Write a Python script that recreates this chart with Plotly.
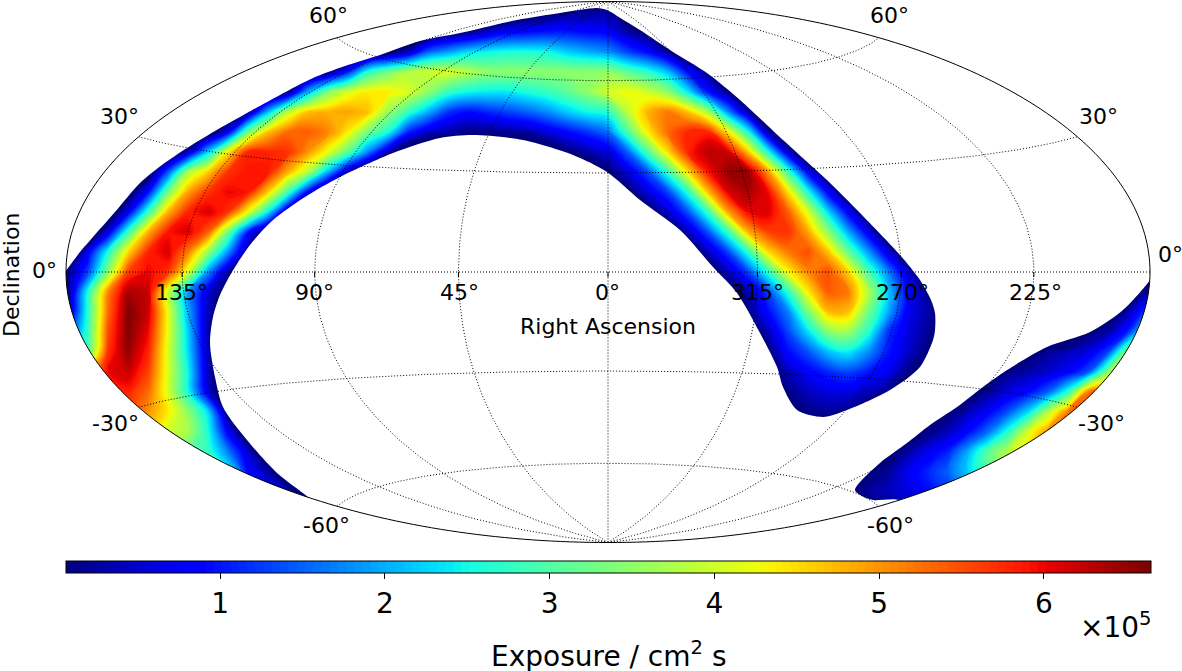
import numpy as np
import plotly.graph_objects as go

W, H = 1182, 671
# map ellipse on the page
CX, CY, RX, RY = 608, 272, 542, 270.5

# exposure, in units of 1e4 cm2 s, on a regular grid in the
# Hammer plane (57 columns, 29 rows, top row first). Listed as
# (row, first column, values); negative cells are just outside the covered sky.
N_ROWS, N_COLS = 29, 57
exposure_cells = [
    (0, 25, [-6, -5, -5, -5, -6]),
    (1, 23, [-6, -4, -1, 1, 2, 2, -5, -10]),
    (2, 19, [-5, -1, 1, 5, 8, 9, 10, 10, 9, 8, 3, -1, -8]),
    (3, 16, [-5, -1, 4, 15, 19, 23, 25, 26, 26, 25, 22, 20, 18, 13, 9, 2, -5]),
    (4, 13, [-5, 0, 11, 27, 33, 38, 40, 41, 38, 35, 35, 35, 35, 35, 35, 35, 31, 27, 21, 9, 1, -6]),
    (5, 11, [-6, 1, 20, 34, 41, 44, 44, 41, 35, 28, 25, 24, 24, 26, 28, 31, 35, 40, 43, 40, 35, 24, 10, 1, -7]),
    (6, 9, [-6, 1, 21, 39, 47, 48, 49, 47, 36, 28, 20, 12, 9, 11, 13, 15, 18, 22, 25, 27, 39, 48, 52, 47, 37, 18, 3, -8]),
    (7, 8, [-4, 7, 33, 47, 53, 54, 51, 44, 33, 26, 11, 5, 3, 1, 1, 2, 3, 6, 9, 12, 16, 30, 44, 53, 58, 58, 44, 26, 3, -7]),
    (8, 6, [-5, 4, 22, 44, 58, 58, 57, 50, 42, 31, 17, 3, -6]),
    (8, 25, [-4, 0, 3, 6, 15, 30, 45, 58, 63, 62, 47, 26, 5, -6]),
    (9, 5, [-4, 14, 37, 46, 57, 59, 59, 48, 38, 20, 3, -6]),
    (9, 27, [-6, 0, 6, 14, 28, 45, 59, 65, 65, 50, 29, 8, -3]),
    (10, 4, [-3, 9, 33, 49, 57, 60, 59, 46, 29, 8, -6]),
    (10, 28, [-5, -1, 6, 13, 27, 47, 61, 64, 60, 45, 26, 8, -3]),
    (11, 3, [-5, 7, 28, 48, 58, 61, 57, 42, 24, 2, -8]),
    (11, 29, [-5, -2, 5, 14, 28, 49, 60, 61, 54, 41, 23, 8, -3]),
    (12, 2, [-6, 6, 28, 48, 59, 61, 54, 33, 10, -3]),
    (12, 31, [-4, 4, 14, 28, 48, 56, 57, 49, 35, 20, 7, -4]),
    (13, 1, [-8, 7, 26, 45, 58, 61, 52, 36, 18, 1, -10]),
    (13, 32, [-4, 4, 13, 27, 45, 52, 55, 47, 32, 19, 6, -4]),
    (14, 0, [-10, 1, 13, 35, 56, 60, 57, 41, 18, 3, -8]),
    (14, 33, [-3, 4, 13, 27, 43, 51, 55, 46, 30, 17, 5, -2]),
    (15, 0, [-10, 1, 26, 51, 64, 62, 40, 19, 6, -3]),
    (15, 34, [-3, 3, 13, 27, 44, 54, 52, 38, 22, 8, 1, -6]),
    (15, 54, [-3, 2, 4]),
    (16, 0, [-6, 3, 27, 53, 66, 62, 42, 20, 4, -5]),
    (16, 34, [-8, 1, 9, 17, 33, 47, 47, 33, 20, 7, 3, -4]),
    (16, 53, [-3, 3, 14, 24]),
    (17, 0, [5, 12, 28, 55, 66, 60, 42, 22, 3, -7]),
    (17, 35, [-4, 4, 13, 23, 34, 36, 27, 12, 6, 2, -5]),
    (17, 52, [0, 3, 11, 30, 40]),
    (18, 1, [20, 30, 57, 65, 58, 41, 23, 4, -6]),
    (18, 35, [-6, 0, 9, 14, 21, 24, 18, 10, 5, 0, -6]),
    (18, 49, [-2, 2, 4, 6, 13, 36, 50, 55]),
    (19, 1, [25, 45, 60, 62, 56, 41, 25, 4, -4]),
    (19, 36, [-2, 4, 8, 11, 13, 10, 7, 1, -6]),
    (19, 47, [-4, 1, 3, 5, 8, 14, 35, 55, 60, 60]),
    (20, 2, [40, 55, 58, 53, 41, 26, 6, -7]),
    (20, 36, [-6, 1, 4, 6, 6, 4, 1, -6]),
    (20, 46, [-2, 2, 6, 9, 15, 27, 52, 58, 60]),
    (21, 3, [45, 55, 50, 44, 35, 23, -1, -5]),
    (21, 37, [-3, 1, 2, 1, -4]),
    (21, 45, [0, 4, 8, 14, 23, 38, 52, 58, 60]),
    (22, 5, [45, 40, 37, 26, 8, -5, -8]),
    (22, 37, [-8, -5, -4, -6]),
    (22, 43, [-3, 1, 4, 9, 16, 27, 41, 50, 55]),
    (23, 6, [35, 30, 28, 17, 5, -6, -10]),
    (23, 41, [-5, -1, 3, 7, 11, 20, 31, 38, 44, 48]),
    (24, 8, [30, 25, 9, 3, -6]),
    (24, 40, [-3, 0, 2, 7, 11, 15, 22, 30, 35]),
    (25, 9, [15, 15, 9, 3, -2, -7]),
    (25, 39, [-4, -1, 2, 4, 6, 9, 12, 15]),
    (26, 10, [8, 4, -1, -7]),
    (26, 40, [-6, -3, 0, 2, 3, 4]),
]

# edge of the covered sky (page pixels of the map)
main_edge_x = [20, 50, 68, 80, 93, 115, 140, 162, 187, 215, 247, 280, 313, 345, 380, 420, 460, 517, 560,
               597, 607, 622, 640, 673, 707, 740, 783, 827, 860, 900, 920, 931, 935, 935, 933, 920, 890,
               847, 823, 797, 783, 777, 760, 737, 713, 680, 640, 607, 573, 523, 473, 440, 393, 340, 305,
               273, 250, 232, 220, 213, 210, 215, 223, 247, 277, 308, 340, 330, 20]
main_edge_y = [290, 290, 268, 252, 237, 212, 183, 165, 148, 131, 113, 95, 78, 66, 55, 41, 33, 20, 13,
               8, 10, 19, 30, 52, 73, 100, 140, 180, 213, 255, 280, 300, 313, 330, 340, 367, 390,
               410, 417, 410, 387, 367, 333, 293, 267, 230, 200, 172, 155, 140, 135, 138, 153, 177, 197,
               220, 245, 272, 295, 317, 343, 377, 407, 440, 473, 497, 525, 580, 580]
south_edge_x = [1155, 1150, 1123, 1090, 1047, 1007, 983, 957, 930, 907, 880, 855, 862, 873, 899, 925, 1180, 1180]
south_edge_y = [270, 280, 310, 332, 347, 370, 387, 407, 425, 443, 463, 490, 496, 500, 500, 520, 520, 270]

# colorbar scale, 1e5 cm2 s
z_low, z_high = 0.065, 6.65
cbar_ticks = [1, 2, 3, 4, 5, 6]

# graticule
ra_lines = [-135, -90, -45, 0, 45, 90, 135]
dec_lines = [-60, -30, 0, 30, 60]

ra_labels = ["135°", "90°", "45°", "0°", "315°", "270°", "225°"]
ra_label_px = [181, 314, 459, 608, 757, 902, 1035]
dec_labels = ["60°", "60°", "30°", "30°", "0°", "0°", "-30°", "-30°", "-60°", "-60°"]
dec_label_px = [(328, 16), (889, 16), (119, 117), (1098, 117), (44, 270),
                (1170, 254), (115, 423), (1101, 423), (326, 525), (890, 525)]

# matplotlib jet, position and colour
jet = [(0, "rgb(0,0,127)"), (0.11, "rgb(0,0,255)"), (0.125, "rgb(0,0,255)"),
       (0.34, "rgb(0,220,255)"), (0.35, "rgb(0,229,246)"), (0.375, "rgb(20,255,226)"),
       (0.64, "rgb(237,255,10)"), (0.66, "rgb(255,237,0)"), (0.89, "rgb(255,20,0)"),
       (0.91, "rgb(232,0,0)"), (1, "rgb(127,0,0)")]


def hammer(lon, lat):
    lam, phi = np.radians(lon), np.radians(lat)
    d = np.sqrt(1 + np.cos(phi) * np.cos(lam / 2))
    return 2 * np.sqrt(2) * np.cos(phi) * np.sin(lam / 2) / d, np.sqrt(2) * np.sin(phi) / d


def to_hx(px):
    return (np.asarray(px, dtype=float) - CX) / RX * 2 * np.sqrt(2)


def to_hy(py):
    return (CY - np.asarray(py, dtype=float)) / RY * np.sqrt(2)


def px_x(x):
    return x / W


def px_y(y):
    return 1 - y / H


# grid of the exposure table in Hammer coordinates
grid_x = to_hx(48 + 20 * np.arange(N_COLS))
grid_y = to_hy(-8 + 20 * np.arange(N_ROWS))

z = np.full((N_ROWS, N_COLS), -1.0)
for row, col, vals in exposure_cells:
    z[row, col:col + len(vals)] = np.array(vals) / 10

fig = go.Figure()
fig.add_trace(go.Contour(
    x=grid_x, y=grid_y, z=z,
    colorscale=jet, zmin=z_low, zmax=z_high, zauto=False,
    autocontour=False,
    contours=dict(coloring="fill", showlines=False, start=z_low, end=z_high, size=0.05),
    line=dict(width=0, smoothing=1.3),
    hoverinfo="skip",
    colorbar=dict(
        orientation="h", x=px_x((66 + 1151) / 2), xanchor="center",
        y=px_y(561), yanchor="top",
        len=1085 / W, lenmode="fraction", thickness=12, thicknessmode="pixels",
        xpad=0, ypad=0,
        outlinecolor="black", outlinewidth=1,
        tickmode="array", tickvals=cbar_ticks, ticktext=[str(t) for t in cbar_ticks],
        ticks="outside", ticklen=6, tickcolor="black", tickwidth=1,
        tickfont=dict(family="DejaVu Sans", size=28, color="black"),
    ),
))

x_range = [to_hx(0), to_hx(W)]
y_range = [to_hy(H), to_hy(0)]

# white over everything except the covered sky: page rectangle with the two
# footprints cut out (opposite winding makes the holes)
mask_x = [-9, 9, 9, -9, -9, None]
mask_y = [-7, -7, 7, 7, -7, None]
for ex_, ey_ in [(main_edge_x, main_edge_y), (south_edge_x, south_edge_y)]:
    hx, hy = to_hx(ex_), to_hy(ey_)
    area = np.sum(hx * np.roll(hy, -1) - np.roll(hx, -1) * hy)
    if area < 0:
        hx, hy = hx[::-1], hy[::-1]
    # rectangle above runs counter-clockwise, holes must go clockwise
    hx, hy = hx[::-1], hy[::-1]
    mask_x += list(hx) + [hx[0], None]
    mask_y += list(hy) + [hy[0], None]
fig.add_trace(go.Scatter(x=mask_x, y=mask_y, mode="lines", fill="toself", fillcolor="white",
                         line=dict(width=0, shape="spline", smoothing=0.8),
                         hoverinfo="skip", showlegend=False))

# graticule lines
lat_s = np.linspace(-90, 90, 181)
lon_s = np.linspace(-180, 180, 181)
for ra in ra_lines:
    gx, gy = hammer(ra, lat_s)
    fig.add_trace(go.Scatter(x=gx, y=gy, mode="lines", hoverinfo="skip", showlegend=False,
                             line=dict(color="black", width=1, dash="1px,2px")))
for dec in dec_lines:
    gx, gy = hammer(lon_s, dec)
    fig.add_trace(go.Scatter(x=gx, y=gy, mode="lines", hoverinfo="skip", showlegend=False,
                             line=dict(color="black", width=1, dash="1px,2px")))

# small ticks under the equator at each meridian
tick_x, tick_y = [], []
for ra in ra_lines:
    gx, gy = hammer(ra, 0.0)
    tick_x += [gx, gx, None]
    tick_y += [gy, gy - 5 / RY * np.sqrt(2), None]
fig.add_trace(go.Scatter(x=tick_x, y=tick_y, mode="lines", hoverinfo="skip", showlegend=False,
                         line=dict(color="black", width=1)))

# white mask outside of the map, then the map outline
ex1, ey1 = hammer(np.full(181, 180.0), lat_s)
ex2, ey2 = hammer(np.full(181, -180.0), lat_s[::-1])
ex, ey = np.concatenate([ex1, ex2]), np.concatenate([ey1, ey2])
ellipse = "M" + " L".join(f"{a:.4f},{b:.4f}" for a, b in zip(ex, ey)) + " Z"
pad = 0.5
outer = (f"M{x_range[0] - pad},{y_range[0] - pad} L{x_range[1] + pad},{y_range[0] - pad} "
         f"L{x_range[1] + pad},{y_range[1] + pad} L{x_range[0] - pad},{y_range[1] + pad} Z ")
shapes = [
    dict(type="path", path=outer + ellipse, xref="x", yref="y", layer="above",
         fillcolor="white", fillrule="evenodd", line=dict(width=0)),
    dict(type="path", path=ellipse, xref="x", yref="y", layer="above",
         line=dict(color="black", width=1)),
]

annotations = []


def label(text, x, y, size=22, angle=0):
    annotations.append(dict(text=text, x=px_x(x), y=px_y(y), xref="paper", yref="paper",
                            showarrow=False, textangle=angle,
                            font=dict(family="DejaVu Sans", size=size, color="black"),
                            xanchor="center", yanchor="middle"))


for t, x in zip(ra_labels, ra_label_px):
    label(t, x, 292)
for t, (x, y) in zip(dec_labels, dec_label_px):
    label(t, x, y)
label("Right Ascension", 608, 326)
label("Declination", 11, 275, angle=-90)
label("Exposure / cm<sup>2</sup> s", 609, 654, size=28)
label("×10<sup>5</sup>", 1116, 625, size=28)

fig.update_layout(
    width=W, height=H, margin=dict(l=0, r=0, t=0, b=0, autoexpand=False),
    paper_bgcolor="white", plot_bgcolor="white", showlegend=False,
    xaxis=dict(visible=False, range=x_range, domain=[0, 1]),
    yaxis=dict(visible=False, range=y_range, domain=[0, 1]),
    shapes=shapes, annotations=annotations,
)

fig.write_html("out.html", config={"displayModeBar": False},
               post_script="document.body.style.margin='0';document.body.style.overflow='hidden';")
